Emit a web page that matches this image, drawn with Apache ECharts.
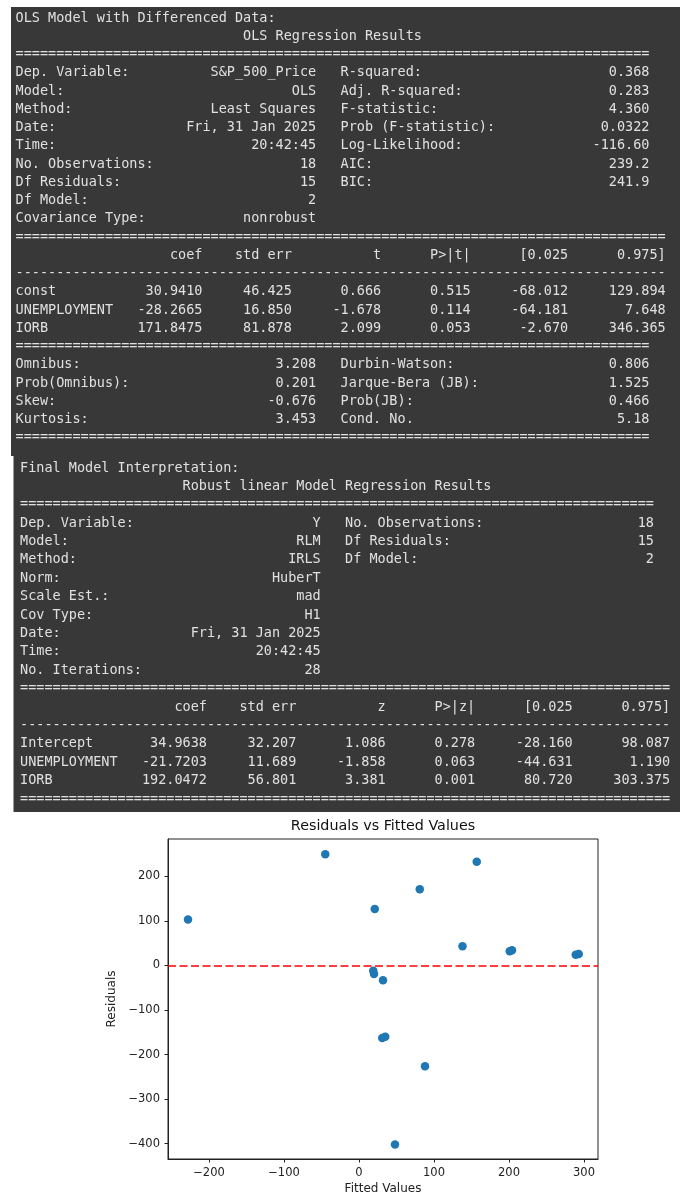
<!DOCTYPE html>
<html>
<head>
<meta charset="utf-8">
<script src="https://cdn.jsdelivr.net/npm/echarts@6/dist/echarts.min.js"></script>
<style>
  html, body { margin: 0; padding: 0; background: #ffffff; }
  #main { width: 680px; height: 1196px; }
</style>
</head>
<body>
<div id="main"></div>
<script>
// ---- OLS summary (differenced data) ----
const olsTitle = 'OLS Regression Results';
const olsInfoLeft = [
  ['Dep. Variable:', 'S&P_500_Price'], ['Model:', 'OLS'], ['Method:', 'Least Squares'],
  ['Date:', 'Fri, 31 Jan 2025'], ['Time:', '20:42:45'], ['No. Observations:', '18'],
  ['Df Residuals:', '15'], ['Df Model:', '2'], ['Covariance Type:', 'nonrobust']
];
const olsInfoRight = [
  ['R-squared:', '0.368'], ['Adj. R-squared:', '0.283'], ['F-statistic:', '4.360'],
  ['Prob (F-statistic):', '0.0322'], ['Log-Likelihood:', '-116.60'], ['AIC:', '239.2'],
  ['BIC:', '241.9']
];
const olsTerms = ['const', 'UNEMPLOYMENT', 'IORB'];
const olsCoef = ['30.9410', '-28.2665', '171.8475'];
const olsStdErr = ['46.425', '16.850', '81.878'];
const olsStat = ['0.666', '-1.678', '2.099'];
const olsPValue = ['0.515', '0.114', '0.053'];
const olsCiLow = ['-68.012', '-64.181', '-2.670'];
const olsCiHigh = ['129.894', '7.648', '346.365'];
const olsDiagLeft = [['Omnibus:', '3.208'], ['Prob(Omnibus):', '0.201'], ['Skew:', '-0.676'], ['Kurtosis:', '3.453']];
const olsDiagRight = [['Durbin-Watson:', '0.806'], ['Jarque-Bera (JB):', '1.525'], ['Prob(JB):', '0.466'], ['Cond. No.', '5.18']];

// ---- Robust linear model summary ----
const rlmTitle = 'Robust linear Model Regression Results';
const rlmInfoLeft = [
  ['Dep. Variable:', 'Y'], ['Model:', 'RLM'], ['Method:', 'IRLS'], ['Norm:', 'HuberT'],
  ['Scale Est.:', 'mad'], ['Cov Type:', 'H1'], ['Date:', 'Fri, 31 Jan 2025'],
  ['Time:', '20:42:45'], ['No. Iterations:', '28']
];
const rlmInfoRight = [['No. Observations:', '18'], ['Df Residuals:', '15'], ['Df Model:', '2']];
const rlmTerms = ['Intercept', 'UNEMPLOYMENT', 'IORB'];
const rlmCoef = ['34.9638', '-21.7203', '192.0472'];
const rlmStdErr = ['32.207', '11.689', '56.801'];
const rlmStat = ['1.086', '-1.858', '3.381'];
const rlmPValue = ['0.278', '0.063', '0.001'];
const rlmCiLow = ['-28.160', '-44.631', '80.720'];
const rlmCiHigh = ['98.087', '1.190', '303.375'];

// ---- Residual plot ----
const fittedValues = [-228, -45, 21, 19, 20, 32, 81, 157, 138, 201, 204, 289, 293, 31, 35, 88, 48];
const residuals    = [103, 250, 127, -12, -19, -33, 171, 233, 43, 32, 34, 24, 26, -163, -160, -226, -402];
const xTicks = [-200, -100, 0, 100, 200, 300];
const yTicks = [-400, -300, -200, -100, 0, 100, 200];

// fixed-width text helpers (statsmodels summary layout)
function pairRow(l, r) {
  let s = l ? l[0] + l[1].padStart(37 - l[0].length) : ' '.repeat(37);
  if (r) s += '   ' + r[0] + r[1].padStart(38 - r[0].length);
  return s;
}
function coefRow(name, cols) {
  return name.padEnd(12) + cols.map((c, i) => c.padStart(i < 4 ? 11 : 12)).join('');
}
function buildCoefBlock(terms, stat, pname, coef, se, st, p, lo, hi) {
  const rows = [coefRow('', ['coef', 'std err', stat, pname, '[0.025', '0.975]']), '-'.repeat(80)];
  terms.forEach((t, i) => rows.push(coefRow(t, [coef[i], se[i], st[i], p[i], lo[i], hi[i]])));
  return rows;
}

const olsLines = ['OLS Model with Differenced Data:', ' '.repeat(28) + olsTitle, '='.repeat(78)];
olsInfoLeft.forEach((l, i) => olsLines.push(pairRow(l, olsInfoRight[i])));
olsLines.push('='.repeat(80));
olsLines.push(...buildCoefBlock(olsTerms, 't', 'P>|t|', olsCoef, olsStdErr, olsStat, olsPValue, olsCiLow, olsCiHigh));
olsLines.push('='.repeat(78));
olsDiagLeft.forEach((l, i) => olsLines.push(pairRow(l, olsDiagRight[i])));
olsLines.push('='.repeat(78));

const rlmLines = ['Final Model Interpretation:', ' '.repeat(20) + rlmTitle, '='.repeat(78)];
rlmInfoLeft.forEach((l, i) => rlmLines.push(pairRow(l, rlmInfoRight[i])));
rlmLines.push('='.repeat(80));
rlmLines.push(...buildCoefBlock(rlmTerms, 'z', 'P>|z|', rlmCoef, rlmStdErr, rlmStat, rlmPValue, rlmCiLow, rlmCiHigh));
rlmLines.push('='.repeat(80));

const MONO = '13.5px "DejaVu Sans Mono", "Liberation Mono", monospace';
const PANEL_BG = '#383838';
const PANEL_FG = '#e0e0e0';

function textBlock(lines, x0, y0, lh) {
  return lines.map((ln, i) => ({
    type: 'text', z: 1, silent: true,
    x: x0, y: y0 + i * lh,
    style: { text: ln, font: MONO, fill: PANEL_FG, align: 'left', verticalAlign: 'middle' }
  }));
}

const graphics = [
  { type: 'rect', z: -20, silent: true, shape: { x: 11, y: 7, width: 669, height: 449 }, style: { fill: PANEL_BG } },
  { type: 'rect', z: -20, silent: true, shape: { x: 13.5, y: 456, width: 666.5, height: 356 }, style: { fill: PANEL_BG } },
  { type: 'rect', z: -19, silent: true, shape: { x: 100, y: 812, width: 507, height: 384 }, style: { fill: '#ffffff' } },
  ...textBlock(olsLines, 15.5, 18, 18.26),
  ...textBlock(rlmLines, 20, 468, 18.39)
];

const minus = v => String(v).replace('-', '\u2212');
const SANS = 'DejaVu Sans';

const chart = echarts.init(document.getElementById('main'), null, { renderer: 'canvas' });
chart.setOption({
  animation: false,
  backgroundColor: '#ffffff',
  graphic: { elements: graphics },
  title: {
    text: 'Residuals vs Fitted Values',
    left: 383, top: 819, padding: 0, textAlign: 'center',
    textStyle: { fontFamily: SANS, fontSize: 14.3, fontWeight: 'normal', color: '#111' }
  },
  grid: {
    left: 168, top: 839, width: 430, height: 321,
    show: true, borderColor: '#222', borderWidth: 1, backgroundColor: 'transparent'
  },
  xAxis: {
    type: 'value', min: -254.7, max: 318.7,
    name: 'Fitted Values', nameLocation: 'middle', nameGap: 24,
    nameTextStyle: { fontFamily: SANS, fontSize: 12, color: '#222' },
    axisLine: { onZero: false, lineStyle: { color: '#222', width: 1 } },
    axisTick: { show: true, length: 3.5, customValues: xTicks, lineStyle: { color: '#222' } },
    axisLabel: { customValues: xTicks, formatter: minus, margin: 8, fontFamily: SANS, fontSize: 11.5, color: '#222' },
    splitLine: { show: false }
  },
  yAxis: {
    type: 'value', min: -434.5, max: 284,
    name: 'Residuals', nameLocation: 'middle', nameGap: 45,
    nameTextStyle: { fontFamily: SANS, fontSize: 12, color: '#222' },
    axisLine: { show: true, onZero: false, lineStyle: { color: '#222', width: 1 } },
    axisTick: { show: true, length: 3.5, customValues: yTicks, lineStyle: { color: '#222' } },
    axisLabel: { customValues: yTicks, formatter: minus, margin: 8, fontFamily: SANS, fontSize: 11.5, color: '#222' },
    splitLine: { show: false }
  },
  series: [{
    type: 'scatter',
    data: fittedValues.map((x, i) => [x, residuals[i]]),
    symbolSize: 8.5,
    itemStyle: { color: '#1f77b4', opacity: 1 },
    markLine: {
      silent: true, symbol: 'none',
      label: { show: false },
      lineStyle: { color: '#ff0000', type: [8, 3.5], width: 1.5 },
      data: [{ yAxis: 0 }]
    }
  }]
});
</script>
</body>
</html>
